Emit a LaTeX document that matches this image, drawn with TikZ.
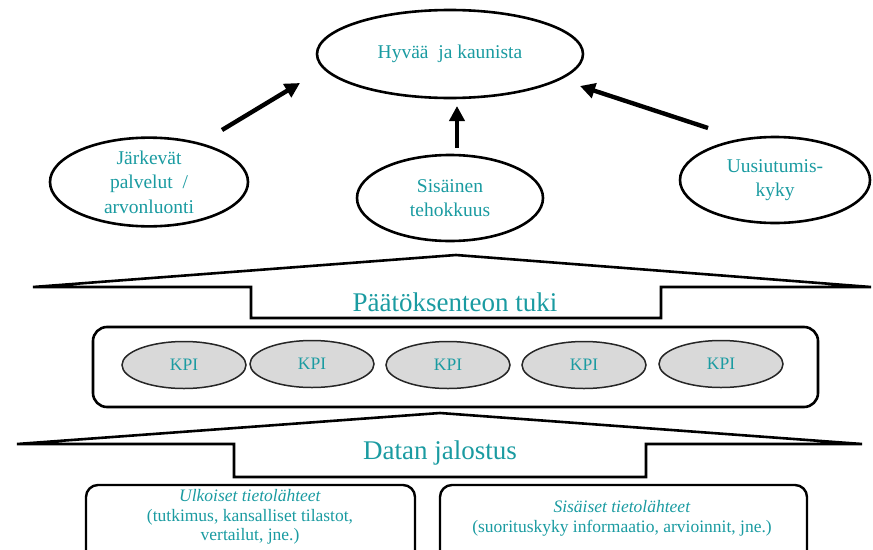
\documentclass[tikz,border=0pt]{standalone}
\usepackage{fontspec}
\setmainfont{Liberation Serif}
\usetikzlibrary{arrows.meta,shapes.geometric}
\definecolor{teal1}{HTML}{1A9BA1}
\definecolor{kpifill}{HTML}{D9D9D9}
\tikzset{
  oval/.style={ellipse, draw=black, line width=2.6pt, text=teal1, align=center, inner sep=0pt, font=\fontsize{19.5}{24.5}\selectfont},
  kpi/.style={ellipse, draw=black!85, line width=1.5pt, fill=kpifill, text=teal1, minimum width=124pt, minimum height=47pt, inner sep=0pt, font=\fontsize{17.5}{20}\selectfont},
  bigarrow/.style={line width=4.4pt, -{Triangle[length=15pt,width=15pt]}},
  chev/.style={draw=black, line width=2.6pt, line join=miter},
  lbl/.style={text=teal1, inner sep=0pt},
  srcbox/.style={draw=black, line width=2.4pt, rounded corners=12pt},
}
\begin{document}
\begin{tikzpicture}[x=1pt,y=-1pt]
\useasboundingbox (0,0) rectangle (873,549);
% top ellipses
\node[oval, minimum width=266pt, minimum height=88pt] (top) at (450,54) {Hyvää\ \ ja kaunista};
\node[oval, minimum width=198pt, minimum height=88pt] (jark) at (149,182) {Järkevät\\palvelut\ \ /\\arvonluonti};
\node[oval, minimum width=186pt, minimum height=86pt] (sis) at (450,198) {Sisäinen\\tehokkuus};
\node[oval, minimum width=190pt, minimum height=86pt] (uus) at (775,180) {Uusiutumis-\\kyky};
% arrows
\coordinate (a1s) at (222,130); \coordinate (a1e) at (300,83);
\coordinate (a2s) at (457,148); \coordinate (a2e) at (457,106);
\coordinate (a3s) at (708,128); \coordinate (a3e) at (580,86);
\draw[bigarrow] (a1s) -- (a1e);
\draw[bigarrow] (a2s) -- (a2e);
\draw[bigarrow] (a3s) -- (a3e);
% chevron 1
\draw[chev] (33,287) -- (456,255) -- (871,287) -- (661,287) -- (661,318) -- (251,318) -- (251,287) -- cycle;
\node[lbl, font=\fontsize{27}{30}\selectfont] (pt) at (455,302) {Päätöksenteon tuki};
% KPI box
\draw[line width=2.6pt, rounded corners=14pt] (93,327) rectangle (818,407);
\node[kpi] (k1) at (184,365) {KPI};
\node[kpi] (k2) at (312,364) {KPI};
\node[kpi] (k3) at (448,365) {KPI};
\node[kpi] (k4) at (584,365) {KPI};
\node[kpi] (k5) at (721,364) {KPI};
% chevron 2
\draw[chev] (17,444) -- (440,413) -- (862,444) -- (646,444) -- (646,477) -- (234,477) -- (234,444) -- cycle;
\node[lbl, font=\fontsize{27}{30}\selectfont] (dj) at (440,453) {Datan jalostus};
% source boxes
\draw[srcbox] (86,562) -- (86,485) -- (415,485) -- (415,562);
\draw[srcbox] (440,562) -- (440,485) -- (807,485) -- (807,562);
\node[lbl, align=center, font=\fontsize{17.5}{19.5}\selectfont] (ulk) at (250,517) {\textit{Ulkoiset tietolähteet}\\(tutkimus, kansalliset tilastot,\\vertailut, jne.)};
\node[lbl, align=center, font=\fontsize{17.5}{20}\selectfont] (sisl) at (622,518) {\textit{Sisäiset tietolähteet}\\(suorituskyky informaatio, arvioinnit, jne.)};
\end{tikzpicture}
\end{document}
